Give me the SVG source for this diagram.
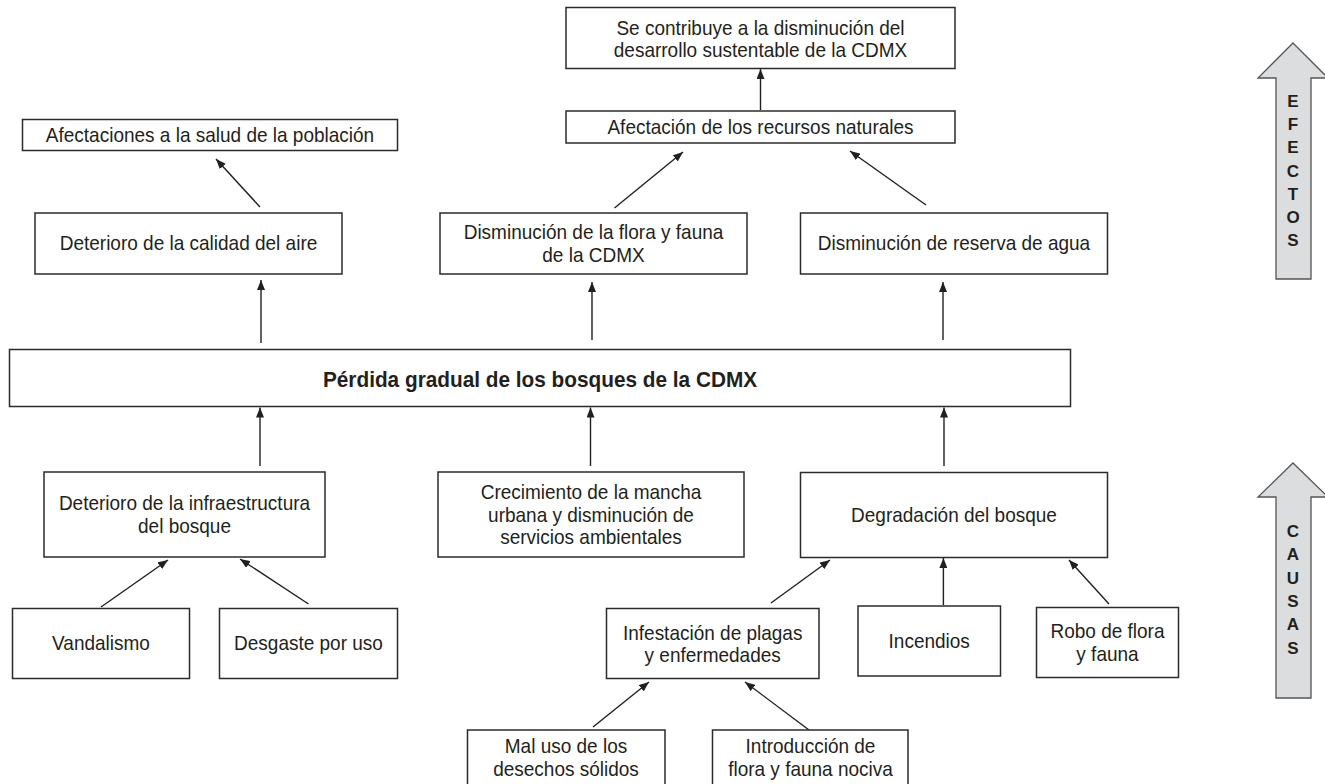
<svg xmlns="http://www.w3.org/2000/svg" width="1325" height="784" viewBox="0 0 1325 784">
<defs>
<style>
.box{fill:#fff;stroke:#2b2b2b;stroke-width:1.5}
.t{font-family:"Liberation Sans",Arial,sans-serif;font-size:20.5px;fill:#231f20;text-anchor:middle;transform-box:fill-box;transform-origin:center;transform:scaleX(0.927)}
.tb{font-family:"Liberation Sans",Arial,sans-serif;font-size:22px;font-weight:bold;fill:#231f20;text-anchor:middle;transform-box:fill-box;transform-origin:center;transform:scaleX(0.945)}
.lt{font-family:"Liberation Sans",Arial,sans-serif;font-size:17px;font-weight:bold;fill:#231f20;text-anchor:middle}
.big{fill:#dcdddf;stroke:#555;stroke-width:1.3}
.c{stroke:#231f20;stroke-width:1.4;fill:none;marker-end:url(#ah)}
</style>
<marker id="ah" viewBox="0 0 10 8" refX="10" refY="4" markerWidth="10" markerHeight="8" orient="auto" markerUnits="userSpaceOnUse"><path d="M0,0 L10,4 L0,8 z" fill="#231f20"/></marker>
</defs>
<rect width="1325" height="784" fill="#fff"/>

<g id="connectors">
<line class="c" x1="260" y1="207" x2="216" y2="159"/>
<line class="c" x1="261" y1="343" x2="261" y2="280"/>
<line class="c" x1="592" y1="340" x2="592" y2="282"/>
<line class="c" x1="943" y1="340" x2="943" y2="282"/>
<line class="c" x1="614.5" y1="208" x2="683" y2="152"/>
<line class="c" x1="926" y1="205" x2="850" y2="151"/>
<line class="c" x1="760.5" y1="110" x2="760.5" y2="69"/>
<line class="c" x1="260" y1="466" x2="260" y2="407.5"/>
<line class="c" x1="590.5" y1="466" x2="590.5" y2="407.5"/>
<line class="c" x1="944" y1="466" x2="944" y2="407.5"/>
<line class="c" x1="101" y1="607" x2="168" y2="560"/>
<line class="c" x1="308.5" y1="604" x2="240" y2="559"/>
<line class="c" x1="771" y1="603" x2="830" y2="560"/>
<line class="c" x1="943.4" y1="605" x2="943.4" y2="558"/>
<line class="c" x1="1109" y1="604" x2="1069" y2="560"/>
<line class="c" x1="593" y1="727" x2="649" y2="682"/>
<line class="c" x1="809" y1="730" x2="745" y2="682"/>
</g>

<g id="n-se-contribuye">
<rect class="box" x="566" y="7.5" width="389" height="61"/>
<text class="t" x="760.5" y="35">Se contribuye a la disminución del</text>
<text class="t" x="760.5" y="57.5">desarrollo sustentable de la CDMX</text>
</g>
<g id="n-afectacion-recursos">
<rect class="box" x="566" y="111" width="389" height="32"/>
<text class="t" x="760.5" y="134">Afectación de los recursos naturales</text>
</g>
<g id="n-salud">
<rect class="box" x="22.5" y="119.5" width="375" height="31"/>
<text class="t" x="210" y="142.5">Afectaciones a la salud de la población</text>
</g>
<g id="n-aire">
<rect class="box" x="35" y="213" width="307" height="61"/>
<text class="t" x="188.5" y="250">Deterioro de la calidad del aire</text>
</g>
<g id="n-flora">
<rect class="box" x="440" y="213" width="307" height="61"/>
<text class="t" x="593.5" y="239">Disminución de la flora y fauna</text>
<text class="t" x="593.5" y="262">de la CDMX</text>
</g>
<g id="n-agua">
<rect class="box" x="800.5" y="213" width="307" height="61"/>
<text class="t" x="954" y="250">Disminución de reserva de agua</text>
</g>
<g id="n-perdida">
<rect class="box" x="9.5" y="349.5" width="1061" height="57"/>
<text class="tb" x="540" y="387.5">Pérdida gradual de los bosques de la CDMX</text>
</g>
<g id="n-infra">
<rect class="box" x="44" y="472" width="281" height="85"/>
<text class="t" x="184.5" y="510.5">Deterioro de la infraestructura</text>
<text class="t" x="184.5" y="533">del bosque</text>
</g>
<g id="n-crecimiento">
<rect class="box" x="438" y="472" width="306" height="85"/>
<text class="t" x="591" y="499.5">Crecimiento de la mancha</text>
<text class="t" x="591" y="522">urbana y disminución de</text>
<text class="t" x="591" y="544.5">servicios ambientales</text>
</g>
<g id="n-degradacion">
<rect class="box" x="800.5" y="472.5" width="307" height="85"/>
<text class="t" x="954" y="522.5">Degradación del bosque</text>
</g>
<g id="n-vandalismo">
<rect class="box" x="12.5" y="608.5" width="177" height="70"/>
<text class="t" x="101" y="650.5">Vandalismo</text>
</g>
<g id="n-desgaste">
<rect class="box" x="219.5" y="608.5" width="178" height="70"/>
<text class="t" x="308.5" y="650.5">Desgaste por uso</text>
</g>
<g id="n-infestacion">
<rect class="box" x="606.5" y="608.5" width="212.5" height="70"/>
<text class="t" x="712.7" y="640">Infestación de plagas</text>
<text class="t" x="712.7" y="662.5">y enfermedades</text>
</g>
<g id="n-incendios">
<rect class="box" x="858" y="606" width="142.5" height="70"/>
<text class="t" x="929.2" y="648.5">Incendios</text>
</g>
<g id="n-robo">
<rect class="box" x="1036.5" y="607.5" width="142" height="70"/>
<text class="t" x="1107.5" y="638.5">Robo de flora</text>
<text class="t" x="1107.5" y="661.5">y fauna</text>
</g>
<g id="n-maluso">
<rect class="box" x="467.5" y="730" width="197.5" height="60"/>
<text class="t" x="566" y="753.5">Mal uso de los</text>
<text class="t" x="566" y="776">desechos sólidos</text>
</g>
<g id="n-introduccion">
<rect class="box" x="712.5" y="730" width="195.5" height="60"/>
<text class="t" x="810.5" y="753.5">Introducción de</text>
<text class="t" x="810.5" y="776">flora y fauna nociva</text>
</g>

<g id="efectos">
<polygon class="big" points="1293,43 1328,78 1311,78 1311,279 1276,279 1276,78 1258,78"/>
<text class="lt" x="1293" y="107">E</text>
<text class="lt" x="1293" y="130">F</text>
<text class="lt" x="1293" y="153">E</text>
<text class="lt" x="1293" y="176.5">C</text>
<text class="lt" x="1293" y="199.5">T</text>
<text class="lt" x="1293" y="222.5">O</text>
<text class="lt" x="1293" y="246">S</text>
</g>
<g id="causas">
<polygon class="big" points="1293,463 1328,497 1311,497 1311,698 1276,698 1276,497 1258,497"/>
<text class="lt" x="1293" y="537">C</text>
<text class="lt" x="1293" y="560.3">A</text>
<text class="lt" x="1293" y="583.6">U</text>
<text class="lt" x="1293" y="607">S</text>
<text class="lt" x="1293" y="630.2">A</text>
<text class="lt" x="1293" y="653.5">S</text>
</g>
</svg>
